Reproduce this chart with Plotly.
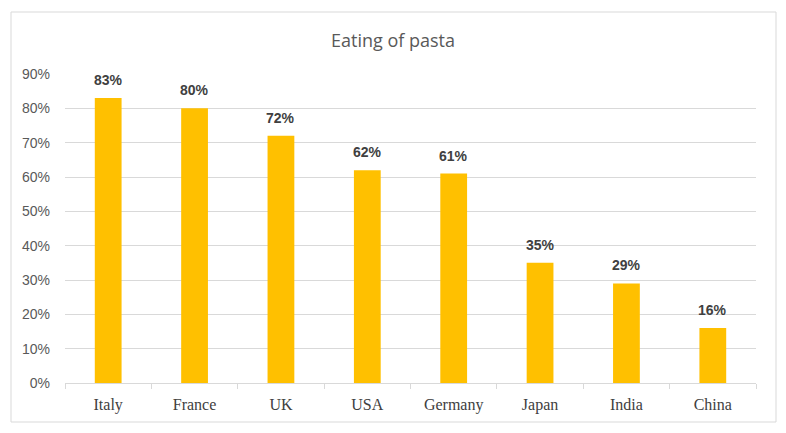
import plotly.graph_objects as go

countries = ["Italy", "France", "UK", "USA", "Germany", "Japan", "India", "China"]
shares = [0.83, 0.80, 0.72, 0.62, 0.61, 0.35, 0.29, 0.16]
y_ticks = [0, 0.1, 0.2, 0.3, 0.4, 0.5, 0.6, 0.7, 0.8, 0.9]

fig = go.Figure(go.Bar(
    x=countries, y=shares,
    marker=dict(color="#FFC000", line=dict(width=0)),
    hoverinfo="x+y",
))

for c, v in zip(countries, shares):
    fig.add_annotation(
        x=c, y=v, text=f"<b>{round(v*100)}%</b>", showarrow=False,
        yanchor="bottom", yshift=8,
        font=dict(family="Liberation Sans, Arial, sans-serif", size=14, color="#404040"),
    )

L, R, T, B = 65, 30, 74, 50
W, H = 786, 433
pw, ph = W - L - R, H - T - B

fig.update_layout(
    width=W, height=H,
    margin=dict(l=L, r=R, t=T, b=B),
    paper_bgcolor="white", plot_bgcolor="white",
    bargap=0.69,
    showlegend=False,
    title=dict(text="Eating of pasta", x=0.5, xref="container", xanchor="center",
               y=1 - 41 / H, yref="container", yanchor="middle",
               font=dict(family="Open Sans, Liberation Sans, sans-serif", size=18, color="#595959")),
    xaxis=dict(
        showgrid=False, showline=True, linecolor="#D9D9D9", linewidth=1,
        ticks="outside", tickson="boundaries", ticklen=5, tickcolor="#D9D9D9",
        tickfont=dict(family="Liberation Serif, Times New Roman, serif", size=16, color="#404040"),
        ticklabelstandoff=7,
    ),
    yaxis=dict(
        range=[0, 0.9], tickvals=y_ticks, tickformat=".0%",
        showgrid=True, gridcolor="#D9D9D9", gridwidth=1,
        zeroline=False, showline=False, ticks="",
        tickfont=dict(family="Liberation Sans, Arial, sans-serif", size=14, color="#595959"),
        ticklabelstandoff=14,
    ),
    shapes=[dict(
        type="rect", xref="paper", yref="paper",
        x0=(11 - L) / pw, x1=(776 - L) / pw,
        y0=(H - B - 422) / ph, y1=(H - B - 12) / ph,
        line=dict(color="#D9D9D9", width=1), fillcolor="rgba(0,0,0,0)", layer="below",
    )],
)

fig.write_html("out.html", config={"displayModeBar": False},
               post_script="document.body.style.margin='0';")
